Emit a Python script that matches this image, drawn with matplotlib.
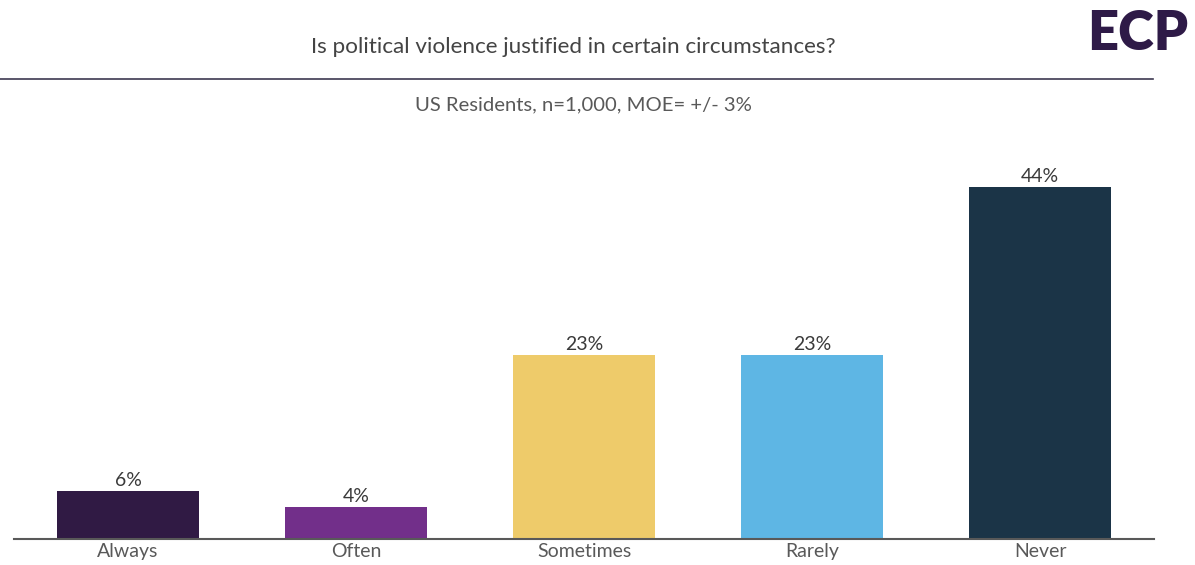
import matplotlib.pyplot as plt
from matplotlib.lines import Line2D

plt.rcParams['font.family'] = ['Lato', 'DejaVu Sans']

categories = ['Always', 'Often', 'Sometimes', 'Rarely', 'Never']
values = [6, 4, 23, 23, 44]
colors = ['#301a44', '#722f8a', '#eecb6a', '#5eb6e4', '#1b3447']
title = 'Is political violence justified in certain circumstances?'
subtitle = 'US Residents, n=1,000, MOE= +/- 3%'

fig = plt.figure(figsize=(11.95, 5.65), dpi=100)
# axes: x from 14 to 1154 px, baseline at y=539 px
ax = fig.add_axes([14 / 1195, (565 - 539) / 565, 1140 / 1195, 400 / 565])

x = range(len(categories))
ax.bar(x, values, width=0.62, color=colors, zorder=2)
for xi, v in zip(x, values):
    ax.text(xi, v + 0.3, f'{v}%', ha='center', va='bottom', fontsize=14, color='#3a3a3a')

ax.set_xlim(-0.5, 4.5)
ax.set_ylim(0, 50)
ax.set_xticks(list(x))
ax.set_xticklabels(categories, fontsize=14, color='#595959')
ax.tick_params(axis='x', length=0, pad=3)
ax.set_yticks([])
for s in ['top', 'right', 'left']:
    ax.spines[s].set_visible(False)
ax.spines['bottom'].set_color('#595959')
ax.spines['bottom'].set_linewidth(1.5)

fig.text(573 / 1195, 1 - 47 / 565, title, ha='center', va='center', fontsize=16.2,
         color='#444444')
fig.text(583 / 1195, 1 - 105 / 565, subtitle, ha='center', va='center', fontsize=14.6,
         color='#595959')
fig.add_artist(Line2D([0, 1153 / 1195], [1 - 79 / 565] * 2, color='#3d3850', lw=1.2))

# logo
fig.text(1138 / 1195, 1 - 34 / 565, 'ECP', ha='center', va='center', fontsize=39,
         fontweight='heavy', color='#2e1a47')

fig.savefig('out.png', dpi=100)
